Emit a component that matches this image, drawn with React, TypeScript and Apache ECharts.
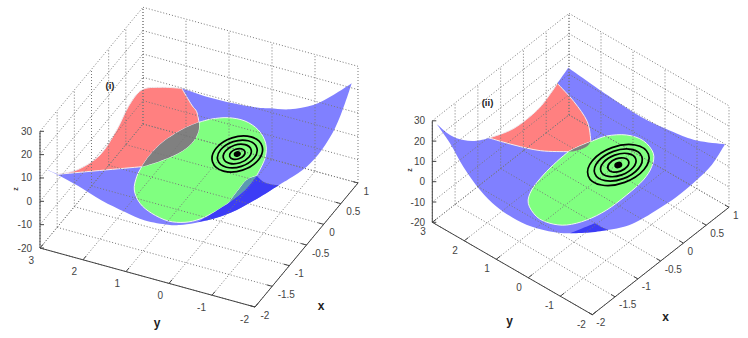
import React, { useEffect, useRef } from "react";
import * as echarts from "echarts";

type P = [number, number];

// Axis ticks
const xTicks = [-2, -1.5, -1, -0.5, 0, 0.5, 1];
const yTicks = [3, 2, 1, 0, -1, -2];
const zTicks = [-20, -10, 0, 10, 20, 30];

// Panel (i): outlines, in picture units
const blueI: P[][] = [
  [[44, 168.3], [57.7, 174.3]],
  [[57.7, 174.3], [78, 169.5], [100, 155], [116.7, 130], [128.3, 106.7], [141.7, 90], [160, 87.3], [181.7, 88.3]],
  [[181.7, 88.3], [206.7, 96.7], [233.3, 103.3], [256.7, 107.5], [270, 108.3], [290, 109.3], [313.3, 105], [333.3, 95], [351.7, 83.3]],
  [[351.7, 83.3], [345, 103.3], [335, 128.3], [321.7, 150], [306.7, 166.7], [290, 178.3], [279, 185], [260, 197], [236.7, 210], [215, 218.3], [195, 223], [180, 225], [168, 224.8], [145, 220.5], [125, 212], [101.7, 200.5], [78.3, 186], [57.7, 175], [44, 168.3]],
];
const redI: P[][] = [
  [[57.7, 174.3], [78, 169.5], [100, 155], [116.7, 130], [128.3, 106.7], [141.7, 90], [160, 87.3], [181.7, 88.3]],
  [[181.7, 88.3], [191.7, 105], [196.7, 111.7], [199, 122.3]],
  [[199, 122.3], [183.3, 129], [163.3, 141.7], [150, 155], [141.7, 166.7]],
  [[141.7, 166.7], [57.7, 174.3]],
];
const greenI: P[][] = [
  [[199, 122.3], [211.7, 119], [228.3, 117.7], [245, 121], [258.3, 130], [265.7, 143.3], [265, 158.3], [256.7, 175.7]],
  [[256.7, 175.7], [246.7, 180], [238.3, 190], [228.3, 203.3]],
  [[228.3, 203.3], [215, 211.7], [200, 219], [185, 222.3], [168.3, 221], [151.7, 213.3], [140, 203.3], [134.3, 190], [136.7, 176.7], [141.7, 166.7]],
  [[141.7, 166.7], [158.3, 161.7], [178.3, 153.3], [191.7, 143.3], [198.3, 131.7], [199, 122.3]],
];
const grayI: P[][] = [
  [[199, 122.3], [183.3, 129], [163.3, 141.7], [150, 155], [141.7, 166.7]],
  [[141.7, 166.7], [158.3, 161.7], [178.3, 153.3], [191.7, 143.3], [198.3, 131.7], [199, 122.3]],
];
const tealI: P[][] = [
  [[256.7, 175.7], [246.7, 180], [238.3, 190], [228.3, 203.3]],
  [[228.3, 203.3], [245, 190], [256.7, 175.7]],
];
const darkI: P[][] = [
  [[256.7, 175.7], [263.3, 181.7], [271.7, 184.5], [279, 185]],
  [[279, 185], [260, 197], [236.7, 210], [215, 218.3], [198, 222]],
  [[198, 222], [215, 211.7], [228.3, 203.3]],
  [[228.3, 203.3], [245, 190], [256.7, 175.7]],
];
// centre x, centre y, semi-major, semi-minor, tilt in degrees
const ringsI = [
  [237.3, 154, 26, 17, 18],
  [237.3, 154, 20.5, 13, 18],
  [237.3, 154, 14.5, 9.2, 18],
  [237.3, 154, 8, 5, 18],
];
const dotI = [237.3, 154, 2.8, 2];

// Panel (ii)
const blueII: P[][] = [
  [[436.7, 124], [450, 135], [463.3, 140], [476.7, 140.7], [489.3, 138]],
  [[489.3, 138], [514, 128.3], [537.3, 110], [550.7, 93.3], [557.3, 83.3]],
  [[557.3, 83.3], [568.3, 67.7]],
  [[568.3, 67.7], [607.3, 95], [640.7, 116.7], [673.3, 132], [696.7, 140.5], [725, 144.3]],
  [[725, 144.3], [711.7, 165], [696.7, 180], [676.7, 196.7], [656.7, 210], [640, 220], [625, 226.5], [607.3, 230], [580.7, 232.5], [560.7, 233], [536.7, 228.3], [516.7, 220], [496.7, 206.7], [480, 190], [463.3, 166.7], [450, 143.3], [436.7, 124]],
];
const redII: P[][] = [
  [[489.3, 138], [514, 128.3], [537.3, 110], [550.7, 93.3], [557.3, 83.3]],
  [[557.3, 83.3], [574, 101.7], [587.3, 121.7], [591, 141.7]],
  [[591, 141.7], [580, 146], [568.3, 151.7]],
  [[568.3, 151.7], [540.7, 150.7], [514, 145], [489.3, 138]],
];
const greenII: P[][] = [
  [[568.3, 151.7], [580, 146], [590.7, 141.7], [606.7, 136], [626.7, 135], [643.3, 140.7], [653.3, 153.3], [651.7, 166.7], [643.3, 180], [626.7, 195], [606.7, 210], [586.7, 220], [566.7, 225], [550, 223.3], [536.7, 216.7], [528.3, 203.3], [531.7, 190], [543.3, 175], [556.7, 161.7], [568.3, 151.7]],
];
const grayII: P[][] = [
  [[568.3, 151.7], [580, 146], [590.7, 141.7]],
  [[590.7, 141.7], [586, 147], [575, 151], [568.3, 151.7]],
];
const darkII: P[][] = [
  [[570, 233.3], [583, 228], [595, 223.3]],
  [[595, 223.3], [601.7, 227.3], [608.3, 230]],
  [[608.3, 230], [590, 232.5], [570, 233.3]],
];
const ringsII = [
  [618.3, 165, 32, 18.5, 20],
  [618.3, 165, 25, 14.5, 20],
  [618.3, 165, 18.5, 10.5, 20],
  [618.3, 165, 11, 6.5, 20],
];
const dotII = [618.3, 165, 3.2, 2.4];

// Box geometry of each panel
const panels = [
  {
    o: [40, 248] as P, xv: [103, -124] as P, yv: [215, 59] as P, zh: 116.7,
    ySign: { dx: -6, dy: 12 }, xSign: { dx: 5.5, dy: 8 }, zLabelX: 32,
    tag: "(i)", tagAt: [110, 85] as P, xAt: [321, 306] as P, yAt: [157, 323] as P, zAt: [15, 189] as P,
    blue: blueI, red: redI, green: greenI, gray: grayI, dark: darkI, teal: tealI, rings: ringsI, dot: dotI,
  },
  {
    o: [432.3, 222.3] as P, xv: [136.7, -107.4] as P, yv: [160, 92.4] as P, zh: 101.5,
    ySign: { dx: -6.5, dy: 9.5 }, xSign: { dx: 4, dy: 8 }, zLabelX: 425,
    tag: "(ii)", tagAt: [487.5, 102.7] as P, xAt: [665.7, 316.7] as P, yAt: [509.7, 321.3] as P, zAt: [409, 170] as P,
    blue: blueII, red: redII, green: greenII, gray: grayII, dark: darkII, teal: null as P[][] | null, rings: ringsII, dot: dotII,
  },
];

const pathOf = (edges: P[][], coord: (p: P) => number[]) => {
  let d = "";
  edges.forEach((e, k) => {
    const pts = e.map(coord);
    if (k === 0) d += `M${pts[0][0]} ${pts[0][1]}`;
    for (let i = 0; i < pts.length - 1; i++) {
      const a = pts[Math.max(i - 1, 0)], b = pts[i], c = pts[i + 1], f = pts[Math.min(i + 2, pts.length - 1)];
      d += `C${b[0] + (c[0] - a[0]) / 6} ${b[1] + (c[1] - a[1]) / 6} ${c[0] - (f[0] - b[0]) / 6} ${c[1] - (f[1] - b[1]) / 6} ${c[0]} ${c[1]}`;
    }
  });
  return d + "Z";
};

const DOT = { stroke: "#777777", lineWidth: 1, lineDash: [1, 2] };
const AXIS = { stroke: "#444", lineWidth: 1 };
const TXT = "'Liberation Sans', Arial, sans-serif";

function renderPanel(p: (typeof panels)[number]) {
  return (_: any, api: any) => {
    const c = (q: P) => api.coord(q) as number[];
    const at = (x: number, y: number, z: number): P => {
      const a = (x + 2) / 3, b = (3 - y) / 5, h = (z + 20) / 50;
      return [p.o[0] + a * p.xv[0] + b * p.yv[0], p.o[1] + a * p.xv[1] + b * p.yv[1] - h * p.zh];
    };
    const seg = (a: P, b: P, style: any) => {
      const A = c(a), B = c(b);
      return { type: "line", shape: { x1: A[0], y1: A[1], x2: B[0], y2: B[1] }, style };
    };
    const txt = (q: P, text: string, font: string, align: string, fill: string, rotation = 0) => {
      const Q = c(q);
      return { type: "text", x: Q[0], y: Q[1], rotation, style: { text, font, align, verticalAlign: "middle", fill } };
    };
    const area = (edges: P[][], fill: string, stroke?: string) => ({
      type: "path",
      shape: { pathData: pathOf(edges, c) },
      style: { fill, stroke: stroke || "none", lineWidth: stroke ? 1 : 0, opacity: 1 },
    });
    const ring = (r: number[], fill?: string) => {
      const Q = c([r[0], r[1]]);
      return {
        type: "ellipse", x: Q[0], y: Q[1], rotation: ((r[4] || 18) * Math.PI) / 180,
        shape: { cx: 0, cy: 0, rx: r[2], ry: r[3] },
        style: { fill: fill || "none", stroke: "#000", lineWidth: 1.7 },
      };
    };
    const kids: any[] = [];
    kids.push(area(p.blue, "#8080ff"));
    kids.push(area(p.red, "#ff8080", "#f4eeee"));
    kids.push(area(p.green, "#80ff80", "#eef8ee"));
    kids.push(area(p.gray, "#808080"));
    kids.push(area(p.dark, "#3c3cf6"));
    if (p.teal) kids.push(area(p.teal, "#5b9bb0"));

    const zMin = zTicks[0], zMax = zTicks[zTicks.length - 1];
    xTicks.forEach((x) => {
      kids.push(seg(at(x, 3, zMin), at(x, -2, zMin), DOT));
      kids.push(seg(at(x, 3, zMin), at(x, 3, zMax), DOT));
    });
    yTicks.forEach((y) => {
      kids.push(seg(at(-2, y, zMin), at(1, y, zMin), DOT));
      kids.push(seg(at(1, y, zMin), at(1, y, zMax), DOT));
    });
    zTicks.forEach((z) => {
      kids.push(seg(at(-2, 3, z), at(1, 3, z), DOT));
      kids.push(seg(at(1, 3, z), at(1, -2, z), DOT));
    });

    kids.push(seg(at(-2, 3, zMin), at(-2, 3, zMax), AXIS));
    kids.push(seg(at(-2, 3, zMin), at(-2, -2, zMin), AXIS));
    kids.push(seg(at(-2, -2, zMin), at(1, -2, zMin), AXIS));

    zTicks.forEach((z) => {
      const q = at(-2, 3, z);
      kids.push(seg(q, [q[0] + 4, q[1]], AXIS));
      kids.push(txt([p.zLabelX, q[1]], String(z), `10px ${TXT}`, "right", "#444"));
    });
    yTicks.forEach((y) => {
      const q = at(-2, y, zMin);
      kids.push(seg(q, [q[0] + p.xv[0] * 0.03, q[1] + p.xv[1] * 0.03], AXIS));
      kids.push(txt([q[0] + p.ySign.dx, q[1] + p.ySign.dy], String(y), `10px ${TXT}`, "right", "#444"));
    });
    xTicks.forEach((x) => {
      const q = at(x, -2, zMin);
      kids.push(seg(q, [q[0] - p.yv[0] * 0.025, q[1] - p.yv[1] * 0.025], AXIS));
      kids.push(txt([q[0] + p.xSign.dx, q[1] + p.xSign.dy], String(x), `10px ${TXT}`, "left", "#444"));
    });

    p.rings.forEach((r) => kids.push(ring(r)));
    kids.push(ring([...p.dot, p.rings[0][4]], "#000"));

    kids.push(txt(p.tagAt, p.tag, `bold 9.5px ${TXT}`, "center", "#222"));
    kids.push(txt(p.xAt, "x", `bold 12px ${TXT}`, "center", "#222"));
    kids.push(txt(p.yAt, "y", `bold 12px ${TXT}`, "center", "#222"));
    kids.push(txt(p.zAt, "z", `bold 7px ${TXT}`, "center", "#333", Math.PI / 2));
    return { type: "group", children: kids };
  };
}

export default function App() {
  const ref = useRef<HTMLDivElement>(null);
  useEffect(() => {
    const chart = echarts.init(ref.current!, null, { renderer: "svg" });
    chart.setOption({
      animation: false,
      backgroundColor: "#ffffff",
      grid: { left: 0, right: 0, top: 0, bottom: 0 },
      xAxis: { type: "value", min: 0, max: 748, show: false },
      yAxis: { type: "value", min: 0, max: 338, inverse: true, show: false },
      series: panels.map((p) => ({
        type: "custom",
        coordinateSystem: "cartesian2d",
        clip: false,
        silent: true,
        data: [[p.o[0], p.o[1]]],
        renderItem: renderPanel(p),
      })),
    });
    return () => chart.dispose();
  }, []);
  return <div ref={ref} style={{ position: "absolute", left: 0, top: 0, width: 748, height: 338 }} />;
}
